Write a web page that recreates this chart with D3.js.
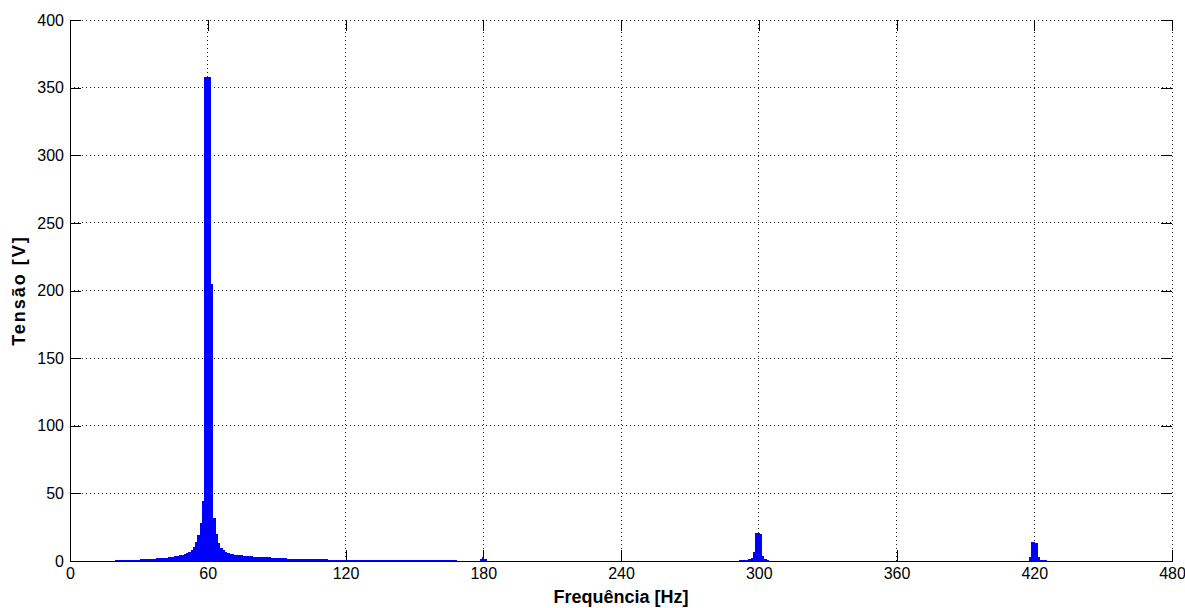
<!DOCTYPE html>
<html>
<head>
<meta charset="utf-8">
<script src="https://cdn.jsdelivr.net/npm/d3@7"></script>
<style>
  html, body { margin: 0; padding: 0; background: #fff; }
  svg { display: block; font-family: "Liberation Sans", Arial, Helvetica, sans-serif; }
</style>
</head>
<body>
<svg id="chart" width="1185" height="608"></svg>
<script>
// Amplitude spectrum, 1 Hz bins, grouped by harmonic band
const fundamentalStart = 20;
const fundamentalBand = [
  0.8, 0.8, 0.85, 0.85, 0.9, 0.9, 0.95, 1.0, 1.0, 1.05,
  1.1, 1.2, 1.25, 1.3, 1.4, 1.5, 1.6, 1.7, 1.9, 2.0,
  2.1, 2.3, 2.5, 2.7, 3.0, 3.2, 3.5, 3.8, 4.3, 4.7,
  5.2, 6.0, 7.0, 8.5, 10.5, 14, 19, 28, 44,
  358, 358, 358, 205,
  32, 20, 13, 9.5, 7.8, 6.7, 6.0, 5.4, 5.0, 4.7,
  4.5, 4.3, 4.1, 3.9, 3.7, 3.5, 3.4, 3.3, 3.2, 3.1,
  3.0, 2.9, 2.8, 2.7, 2.6, 2.5, 2.3, 2.2, 2.1, 2.0,
  1.9, 1.9, 1.8, 1.8, 1.7, 1.7, 1.6, 1.6, 1.5, 1.5,
  1.5, 1.4, 1.4, 1.3, 1.3, 1.3, 1.2, 1.2, 1.2, 1.2,
  1.1, 1.1, 1.1, 1.1, 1.1, 1.1, 1.0, 1.0, 1.0, 1.0,
  1.0, 1.0, 1.0, 1.0, 0.95, 0.95, 0.95, 0.95, 0.95, 0.95,
  0.9, 0.9, 0.9, 0.9, 0.9, 0.9, 0.9, 0.9, 0.9, 0.9,
  0.9, 0.9, 0.9, 0.9, 0.85, 0.85, 0.85, 0.85, 0.85, 0.85,
  0.85, 0.85, 0.85, 0.85, 0.8, 0.8, 0.8, 0.8, 0.8, 0.8,
  0.8, 0.8, 0.8, 0.8, 0.8, 0.8
];
const thirdStart = 179;
const thirdBand = [1.2, 2.6, 1.2];
const fifthStart = 292;
const fifthBand = [0.8, 0.8, 0.8, 0.9, 1.2, 2.5, 7, 20.5, 20.5, 20, 3.5, 1.2, 0.8];
const seventhStart = 418;
const seventhBand = [3, 13.8, 14, 13.5, 3.2, 0.9, 0.8, 0.8];

const xTicks = [0, 60, 120, 180, 240, 300, 360, 420, 480];
const yTicks = [0, 50, 100, 150, 200, 250, 300, 350, 400];
const xLabel = "Frequência [Hz]";
const yLabel = "Tensão [V]";

// Flatten the bands into {freq, value} bins
function toBins(start, values) {
  return values.map((v, i) => ({ freq: start + i, value: v }));
}
const bins = [].concat(
  toBins(fundamentalStart, fundamentalBand),
  toBins(thirdStart, thirdBand),
  toBins(fifthStart, fifthBand),
  toBins(seventhStart, seventhBand)
);

const svg = d3.select("#chart");
const plotLeft = 70, plotRight = 1172, plotTop = 20, plotBottom = 561;
const binWidth = 1;

const x = d3.scaleLinear().domain([0, 480]).range([plotLeft, plotRight]);
const y = d3.scaleLinear().domain([0, 400]).range([plotBottom, plotTop]);

svg.append("rect").attr("width", 1185).attr("height", 608).attr("fill", "#fff");

// dotted grid
const grid = svg.append("g")
  .attr("stroke", "#222")
  .attr("stroke-width", 1)
  .attr("stroke-dasharray", "1,3")
  .attr("shape-rendering", "crispEdges");
grid.selectAll("line.gx").data(xTicks.filter(d => d > 0)).join("line")
  .attr("class", "gx")
  .attr("x1", d => x(d)).attr("x2", d => x(d))
  .attr("y1", plotTop).attr("y2", plotBottom);
grid.selectAll("line.gy").data(yTicks.filter(d => d > 0)).join("line")
  .attr("class", "gy")
  .attr("x1", plotLeft).attr("x2", plotRight)
  .attr("y1", d => y(d)).attr("y2", d => y(d));

// axes with inward ticks on all four sides
const tickLen = 11;
const styleAxis = g => {
  g.selectAll(".tick line").attr("stroke", "#000").attr("shape-rendering", "crispEdges");
  g.selectAll(".domain").attr("stroke", "#000").attr("shape-rendering", "crispEdges");
  g.selectAll("text").attr("fill", "#000").style("font-size", "16px")
    .style("font-family", "'Liberation Sans', Arial, Helvetica, sans-serif");
};

svg.append("g").attr("transform", `translate(0,${plotBottom})`)
  .call(d3.axisBottom(x).tickValues(xTicks).tickSizeInner(-tickLen).tickSizeOuter(0).tickPadding(7))
  .call(styleAxis);
svg.append("g").attr("transform", `translate(${plotLeft},0)`)
  .call(d3.axisLeft(y).tickValues(yTicks).tickSizeInner(-tickLen).tickSizeOuter(0).tickPadding(6))
  .call(styleAxis);
svg.append("g").attr("transform", `translate(0,${plotTop})`)
  .call(d3.axisTop(x).tickValues(xTicks).tickSizeInner(-tickLen).tickSizeOuter(0).tickFormat(""))
  .call(styleAxis)
  .call(g => g.select(".domain").remove());
svg.append("g").attr("transform", `translate(${plotRight},0)`)
  .call(d3.axisRight(y).tickValues(yTicks).tickSizeInner(-tickLen).tickSizeOuter(0).tickFormat(""))
  .call(styleAxis)
  .call(g => g.select(".domain").remove());

// spectrum bars
svg.append("g")
  .attr("fill", "#0000ff")
  .attr("shape-rendering", "crispEdges")
  .selectAll("rect").data(bins).join("rect")
  .attr("x", d => x(d.freq - binWidth / 2))
  .attr("width", d => x(d.freq + binWidth / 2) - x(d.freq - binWidth / 2))
  .attr("y", d => y(d.value))
  .attr("height", d => y(0) - y(d.value));

// axis titles
svg.append("text")
  .attr("x", (plotLeft + plotRight) / 2).attr("y", 603)
  .attr("text-anchor", "middle")
  .style("font-size", "18px").style("font-weight", "bold")
  .text(xLabel);
svg.append("text")
  .attr("transform", `translate(25,${(plotTop + plotBottom) / 2}) rotate(-90)`)
  .attr("text-anchor", "middle")
  .style("font-size", "18px").style("font-weight", "bold")
  .style("letter-spacing", "2px")
  .text(yLabel);
</script>
</body>
</html>
